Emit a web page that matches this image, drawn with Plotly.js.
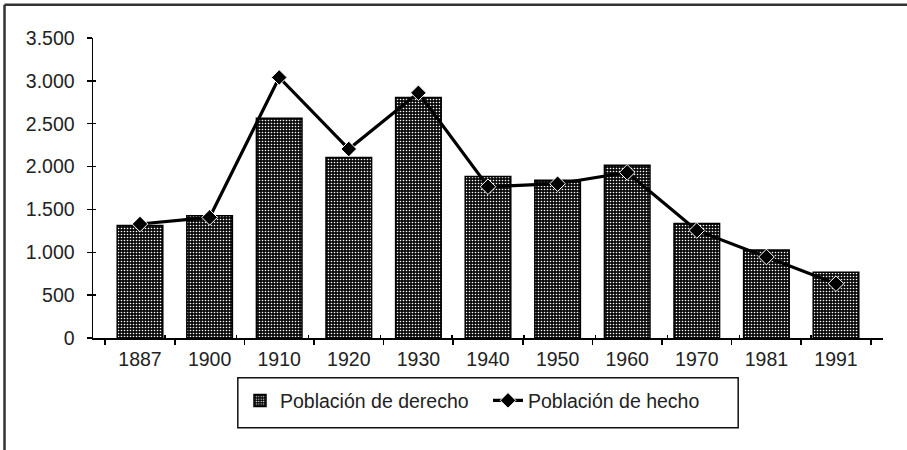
<!DOCTYPE html>
<html>
<head>
<meta charset="utf-8">
<script src="https://cdn.plot.ly/plotly-3.0.1.min.js"></script>
<style>html,body{margin:0;padding:0;background:#fff;}#chart{width:907px;height:450px;}</style>
</head>
<body>
<div id="chart"></div>
<script>
const years = ["1887","1900","1910","1920","1930","1940","1950","1960","1970","1981","1991"];
const poblacionDerecho = [1312, 1425, 2565, 2105, 2805, 1885, 1840, 2015, 1335, 1028, 766];
const poblacionHecho = [1330, 1407, 3040, 2205, 2860, 1765, 1800, 1932, 1255, 945, 634];
const yTicks = [0, 500, 1000, 1500, 2000, 2500, 3000, 3500];

const FONT = "Liberation Sans, Arial, Helvetica, sans-serif";
const FS = 19.5;

const traces = [
  {
    type: "bar",
    name: "Población de derecho",
    x: years,
    y: poblacionDerecho,
    marker: {
      color: "#000",
      line: {color: "#000", width: 1.5},
      pattern: {shape: ".", bgcolor: "#0a0a0a", fgcolor: "#ffffff", size: 3, solidity: 0.22}
    },
    hoverinfo: "x+y"
  },
  {
    type: "scatter",
    mode: "lines+markers",
    name: "Población de hecho",
    x: years,
    y: poblacionHecho,
    line: {color: "#000", width: 3.2},
    marker: {symbol: "diamond", size: 12, color: "#000", line: {color: "#fff", width: 1}},
    hoverinfo: "x+y"
  },
  {
    // empty helper trace so the overlaid tick-only axes are drawn
    type: "scatter", mode: "markers", x: [], y: [],
    xaxis: "x2", yaxis: "y2", showlegend: false, hoverinfo: "skip"
  }
];

const layout = {
  width: 907,
  height: 450,
  margin: {l: 93, r: 24, t: 38, b: 112},
  paper_bgcolor: "#fff",
  plot_bgcolor: "#fff",
  separators: ",.",
  font: {family: FONT, size: FS, color: "#222"},
  bargap: 0.345,
  showlegend: true,
  legend: {
    orientation: "h",
    x: 0.5, xanchor: "center",
    y: -0.209, yanchor: "middle",
    bgcolor: "rgba(0,0,0,0)",
    borderwidth: 0,
    font: {family: FONT, size: FS, color: "#222"},
    traceorder: "normal",
    itemwidth: 30,
    entrywidth: 203,
    entrywidthmode: "pixels"
  },
  xaxis: {
    type: "category",
    showline: true, linecolor: "#000", linewidth: 1.5,
    ticks: "outside", ticklen: 5, tickwidth: 1.5, tickcolor: "#000",
    tickson: "boundaries",
    showgrid: false, zeroline: false,
    tickfont: {family: FONT, size: FS, color: "#222"},
    ticklabelstandoff: 3,
    fixedrange: true
  },
  yaxis: {
    range: [0, 3500],
    tickvals: yTicks,
    tickformat: ",",
    showline: true, linecolor: "#000", linewidth: 1.5,
    ticks: "outside", ticklen: 5, tickwidth: 1.5, tickcolor: "#000",
    showgrid: false, zeroline: false,
    tickfont: {family: FONT, size: FS, color: "#222"},
    ticklabelstandoff: 8,
    fixedrange: true
  },
  xaxis2: {
    overlaying: "x", anchor: "y", side: "bottom",
    range: [-0.5, years.length - 0.5], tick0: 0.5, dtick: 1,
    ticks: "inside", ticklen: 3, tickwidth: 1.5, tickcolor: "#000",
    showticklabels: false, showline: false, showgrid: false, zeroline: false,
    fixedrange: true
  },
  yaxis2: {
    overlaying: "y", anchor: "x", side: "left",
    range: [0, 3500], tick0: 0, dtick: 500,
    ticks: "inside", ticklen: 3, tickwidth: 1.5, tickcolor: "#000",
    showticklabels: false, showline: false, showgrid: false, zeroline: false,
    fixedrange: true
  },
  shapes: [
    {type: "rect", xref: "paper", yref: "paper", x0: 0.1833, x1: 0.8167, y0: -0.299, y1: -0.1323,
     line: {color: "#111", width: 1.5}, fillcolor: "rgba(0,0,0,0)"},
    {type: "line", xref: "paper", yref: "paper", x0: -0.112, x1: 1.04, y0: 1.111, y1: 1.111,
     line: {color: "#333", width: 2.5}},
    {type: "line", xref: "paper", yref: "paper", x0: -0.112, x1: -0.112, y0: 1.111, y1: -0.4,
     line: {color: "#333", width: 2.5}}
  ]
};

Plotly.newPlot("chart", traces, layout, {displayModeBar: false, staticPlot: true});
</script>
</body>
</html>
